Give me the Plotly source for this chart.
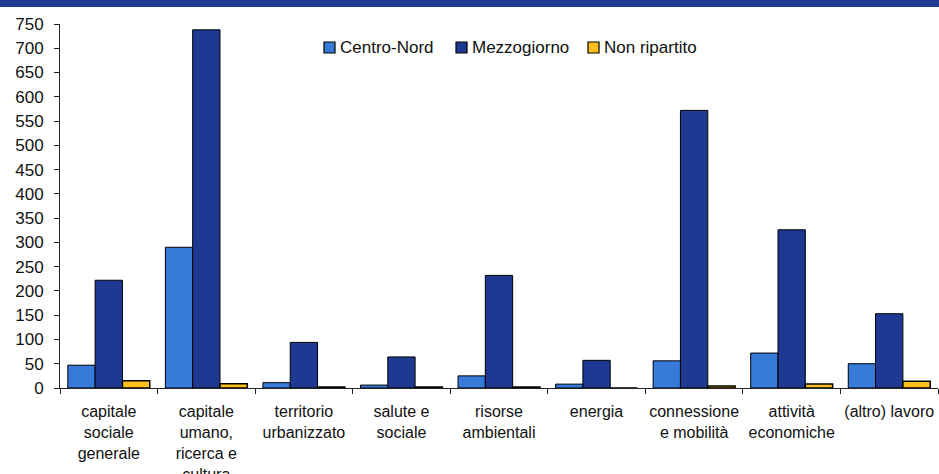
import plotly.graph_objects as go

# Categories (x axis) and series values
categories = [
    'capitale<br>sociale<br>generale',
    'capitale<br>umano,<br>ricerca e<br>cultura',
    'territorio<br>urbanizzato',
    'salute e<br>sociale',
    'risorse<br>ambientali',
    'energia',
    'connessione<br>e mobilità',
    'attività<br>economiche',
    '(altro) lavoro',
]
centro_nord = [47, 290, 11, 6, 25, 8, 56, 72, 50]
mezzogiorno = [222, 738, 94, 64, 232, 57, 572, 326, 153]
non_ripartito = [15, 9, 2, 2, 2, 0, 4, 8, 14]
y_ticks = list(range(0, 751, 50))

series_names = ['Centro-Nord', 'Mezzogiorno', 'Non ripartito']
series_colors = ['rgb(55, 123, 218)', 'rgb(30, 57, 145)', 'rgb(255, 192, 30)']

# plot area in pixels: x 60..938, y 24..388
PLOT_W, PLOT_H = 878, 364

fig = go.Figure()
for name, values, color in zip(series_names, [centro_nord, mezzogiorno, non_ripartito], series_colors):
    fig.add_trace(go.Bar(
        x=categories, y=values, name=name, showlegend=False,
        marker={'color': color, 'line': {'color': 'black', 'width': 1.5 if name == 'Non ripartito' else 1}}))

fig.update_layout(
    width=939, height=474,
    margin={'l': 60, 'r': 1, 't': 24, 'b': 86},
    paper_bgcolor='white', plot_bgcolor='white',
    barmode='group', bargap=0.16, bargroupgap=0,
    font={'family': 'Liberation Sans, Arial, sans-serif', 'size': 16, 'color': '#111111'},
    showlegend=False,
)

# Top band
fig.add_shape(type='rect', xref='paper', yref='paper', x0=-0.1, x1=1.1,
              y0=1 + 17 / PLOT_H, y1=1 + 30 / PLOT_H,
              fillcolor='rgb(31, 58, 147)', line={'width': 0}, layer='above')

# Legend drawn by hand: small square then text, tight spacing
legend_x = [324, 456, 588]
for name, color, px in zip(series_names, series_colors, legend_x):
    fig.add_shape(type='rect', xref='paper', yref='paper',
                  x0=(px - 60) / PLOT_W, x1=(px + 11 - 60) / PLOT_W,
                  y0=(388 - 53) / PLOT_H, y1=(388 - 42) / PLOT_H,
                  fillcolor=color, line={'color': 'black', 'width': 1.2})
    fig.add_annotation(text=name, xref='paper', yref='paper',
                       x=(px + 14 - 60) / PLOT_W, y=(388 - 47.5) / PLOT_H,
                       xanchor='left', yanchor='middle', showarrow=False,
                       font={'size': 17})

fig.update_xaxes(showline=True, linecolor='#222222', linewidth=1,
                 ticks='outside', tickson='boundaries', ticklen=5,
                 tickcolor='#222222', tickfont={'size': 16}, tickangle=0,
                 automargin=False, ticklabelstandoff=9, showgrid=False)
fig.update_yaxes(range=[0, 750], tickvals=y_ticks, showline=True,
                 linecolor='#222222', linewidth=1, ticks='outside', ticklen=5,
                 tickcolor='#222222', tickfont={'size': 17}, showgrid=False,
                 automargin=False, zeroline=False, ticklabelstandoff=7)

# page body has a default 8px margin; remove it so the chart starts at the corner
fig.write_html('out.html', config={'displayModeBar': False},
               post_script="document.body.style.margin='0';")
